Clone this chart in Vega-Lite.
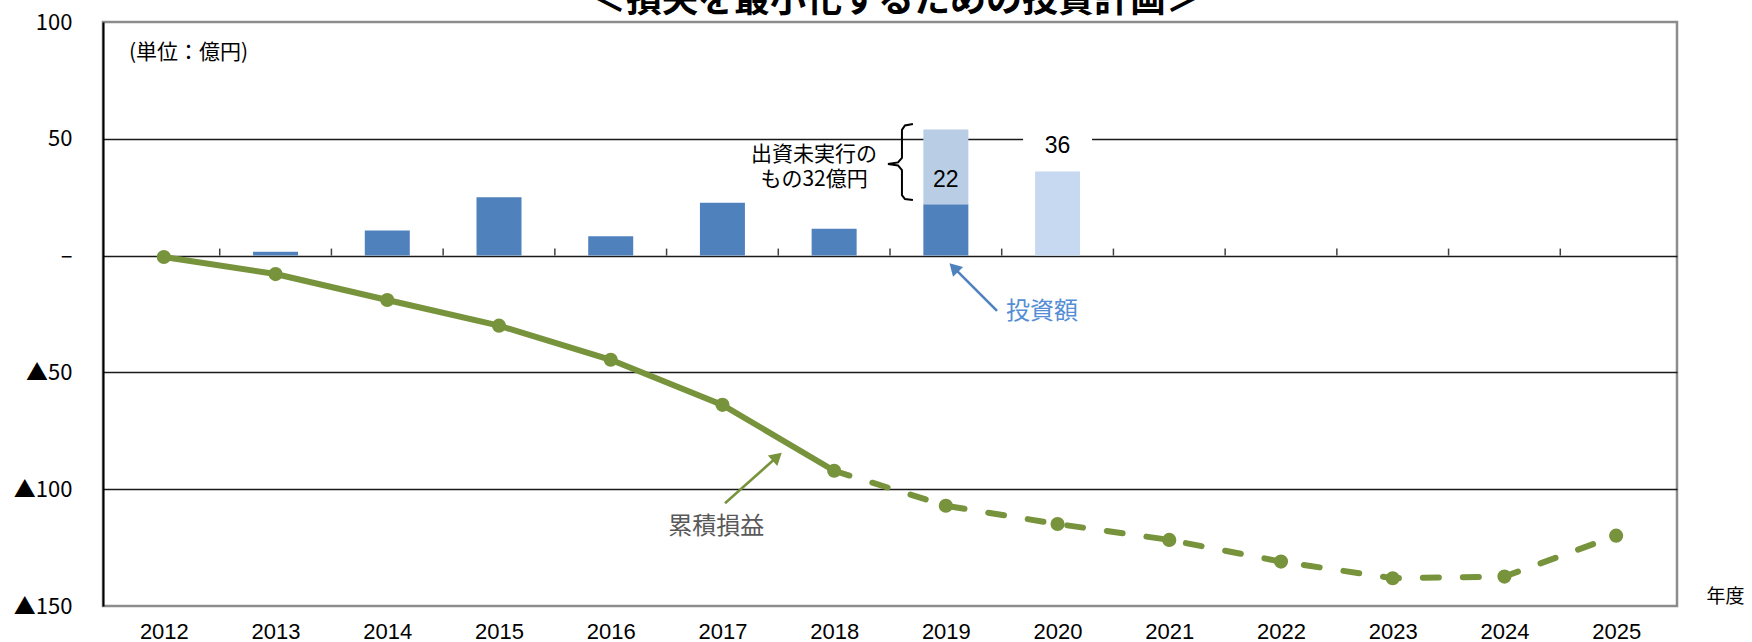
{
  "$schema": "https://vega.github.io/schema/vega-lite/v6.json",
  "width": 1574,
  "height": 584,
  "autosize": "none",
  "padding": {"left": 103, "top": 22, "right": 75, "bottom": 36},
  "background": "white",
  "config": {
    "view": {"stroke": "#8c8c8c", "strokeWidth": 2.5},
    "font": "Noto Sans CJK JP"
  },
  "layer": [
    {
      "data": {"values": [
        {"year": 2013, "kind": "executed", "amount": 1.7},
        {"year": 2014, "kind": "executed", "amount": 10.7},
        {"year": 2015, "kind": "executed", "amount": 25},
        {"year": 2016, "kind": "executed", "amount": 8.3},
        {"year": 2017, "kind": "executed", "amount": 22.6},
        {"year": 2018, "kind": "executed", "amount": 11.5},
        {"year": 2019, "kind": "executed", "amount": 22},
        {"year": 2019, "kind": "unexecuted", "amount": 32},
        {"year": 2020, "kind": "planned", "amount": 36}
      ]},
      "mark": {"type": "bar", "width": 45},
      "encoding": {
        "x": {
          "field": "year", "type": "quantitative",
          "scale": {"domain": [2011.5, 2025.5], "nice": false, "zero": false},
          "axis": {
            "values": [2012, 2013, 2014, 2015, 2016, 2017, 2018, 2019, 2020, 2021, 2022, 2023, 2024, 2025],
            "format": "d", "title": null, "ticks": false, "tickSize": 0, "domain": false, "grid": false,
            "labelFont": "Liberation Sans",
            "labelFontSize": 22, "labelPadding": 15, "labelColor": "black", "labelOverlap": false, "labelFlush": false
          }
        },
        "y": {
          "field": "amount", "type": "quantitative", "stack": "zero",
          "scale": {"domain": [-150, 100], "nice": false, "zero": false},
          "axis": {
            "values": [100, 50, 0, -50, -100, -150],
            "title": null, "ticks": false, "tickSize": 0,
            "domain": true, "domainColor": "black", "domainWidth": 2,
            "grid": true,
            "gridColor": {"condition": {"test": "datum.value == 100 || datum.value == -150", "value": "transparent"}, "value": "#1a1a1a"},
            "gridWidth": 1.3,
            "labelExpr": "datum.value == 0 ? '–' : datum.value < 0 ? '▲' + (-datum.value) : '' + datum.value",
            "labelFont": "Noto Sans CJK JP",
            "labelFontSize": 22, "labelPadding": 31, "labelColor": "black", "labelOverlap": false, "labelFlush": false
          }
        },
        "color": {
          "field": "kind", "type": "nominal",
          "scale": {"domain": ["executed", "unexecuted", "planned"], "range": ["#4F81BD", "#B9CDE5", "#C6D9F1"]},
          "legend": null
        },
        "order": {"field": "kind", "sort": "ascending"}
      }
    },
    {
      "data": {"values": [
        {"b": 2012.5}, {"b": 2013.5}, {"b": 2014.5}, {"b": 2015.5}, {"b": 2016.5}, {"b": 2017.5}, {"b": 2018.5},
        {"b": 2019.5}, {"b": 2020.5}, {"b": 2021.5}, {"b": 2022.5}, {"b": 2023.5}, {"b": 2024.5}
      ]},
      "mark": {"type": "rule", "color": "#404040", "strokeWidth": 1.5},
      "encoding": {
        "x": {"field": "b", "type": "quantitative"},
        "y": {"datum": 0, "type": "quantitative"},
        "y2": {"datum": 3}
      }
    },
    {
      "data": {"values": [{"year": 2020, "lo": 44, "hi": 55}]},
      "mark": {"type": "bar", "width": 69, "color": "white"},
      "encoding": {
        "x": {"field": "year", "type": "quantitative"},
        "y": {"field": "lo", "type": "quantitative"},
        "y2": {"field": "hi"}
      }
    },
    {
      "data": {"values": [
        {"year": 2019, "v": 32.4, "t": "22"},
        {"year": 2020, "v": 46.9, "t": "36"}
      ]},
      "mark": {"type": "text", "font": "Liberation Sans", "fontSize": 23, "color": "black", "align": "center", "baseline": "middle"},
      "encoding": {
        "x": {"field": "year", "type": "quantitative"},
        "y": {"field": "v", "type": "quantitative"},
        "text": {"field": "t"}
      }
    },
    {
      "data": {"name": "pl", "values": [
        {"year": 2012, "pl": -0.6},
        {"year": 2013, "pl": -7.9},
        {"year": 2014, "pl": -19.0},
        {"year": 2015, "pl": -30.0},
        {"year": 2016, "pl": -44.6},
        {"year": 2017, "pl": -63.9},
        {"year": 2018, "pl": -92.1},
        {"year": 2019, "pl": -107.1},
        {"year": 2020, "pl": -114.9},
        {"year": 2021, "pl": -121.7},
        {"year": 2022, "pl": -131.0},
        {"year": 2023, "pl": -138.1},
        {"year": 2024, "pl": -137.4},
        {"year": 2025, "pl": -119.9}
      ]},
      "layer": [
        {
          "transform": [{"filter": "datum.year <= 2018"}],
          "mark": {"type": "line", "color": "#77933C", "strokeWidth": 6},
          "encoding": {
            "x": {"field": "year", "type": "quantitative"},
            "y": {"field": "pl", "type": "quantitative"}
          }
        },
        {
          "transform": [{"filter": "datum.year >= 2018"}],
          "mark": {"type": "line", "color": "#77933C", "strokeWidth": 6, "strokeDash": [16, 24], "strokeCap": "round"},
          "encoding": {
            "x": {"field": "year", "type": "quantitative"},
            "y": {"field": "pl", "type": "quantitative"}
          }
        },
        {
          "mark": {"type": "point", "filled": true, "opacity": 1, "color": "#77933C", "size": 200},
          "encoding": {
            "x": {"field": "year", "type": "quantitative"},
            "y": {"field": "pl", "type": "quantitative"}
          }
        }
      ]
    },
    {
      "data": {"values": [{"x1": 2019.458, "y1": -23.7, "x2": 2019.071, "y2": -5.1}]},
      "mark": {"type": "rule", "strokeWidth": 2.5, "color": "#4F81BD"},
      "encoding": {
        "x": {"field": "x1", "type": "quantitative"},
        "y": {"field": "y1", "type": "quantitative"},
        "x2": {"field": "x2"},
        "y2": {"field": "y2"}
      }
    },
    {
      "data": {"values": [{"x1": 2017.023, "y1": -106.0, "x2": 2017.490, "y2": -86.1}]},
      "mark": {"type": "rule", "strokeWidth": 2.5, "color": "#77933C"},
      "encoding": {
        "x": {"field": "x1", "type": "quantitative"},
        "y": {"field": "y1", "type": "quantitative"},
        "x2": {"field": "x2"},
        "y2": {"field": "y2"}
      }
    },
    {
      "data": {"values": [{"x": 2019.071, "y": -5.1}]},
      "mark": {"type": "point", "shape": "triangle-up", "filled": true, "opacity": 1, "size": 200, "angle": 315.6, "color": "#4F81BD"},
      "encoding": {
        "x": {"field": "x", "type": "quantitative"},
        "y": {"field": "y", "type": "quantitative"}
      }
    },
    {
      "data": {"values": [{"x": 2017.490, "y": -86.1}]},
      "mark": {"type": "point", "shape": "triangle-up", "filled": true, "opacity": 1, "size": 200, "angle": 48.4, "color": "#77933C"},
      "encoding": {
        "x": {"field": "x", "type": "quantitative"},
        "y": {"field": "y", "type": "quantitative"}
      }
    },
    {
      "data": {"values": [
        {"o": 1, "bx": 2018.705, "by": 56.3},
        {"o": 2, "bx": 2018.634, "by": 55.7},
        {"o": 3, "bx": 2018.607, "by": 53.8},
        {"o": 4, "bx": 2018.607, "by": 41.8},
        {"o": 5, "bx": 2018.572, "by": 39.9},
        {"o": 6, "bx": 2018.482, "by": 39.2},
        {"o": 7, "bx": 2018.572, "by": 38.6},
        {"o": 8, "bx": 2018.607, "by": 36.6},
        {"o": 9, "bx": 2018.607, "by": 25.9},
        {"o": 10, "bx": 2018.634, "by": 24.2},
        {"o": 11, "bx": 2018.705, "by": 23.8}
      ]},
      "mark": {"type": "line", "color": "black", "strokeWidth": 2},
      "encoding": {
        "x": {"field": "bx", "type": "quantitative"},
        "y": {"field": "by", "type": "quantitative"},
        "order": {"field": "o", "type": "quantitative"}
      }
    },
    {
      "data": {"values": [
        {"x": 2017.82, "y": 43.1, "t": "出資未実行の"},
        {"x": 2017.82, "y": 32.4, "t": "もの32億円"}
      ]},
      "mark": {"type": "text", "fontSize": 21, "color": "black", "align": "center", "baseline": "middle"},
      "encoding": {
        "x": {"field": "x", "type": "quantitative"},
        "y": {"field": "y", "type": "quantitative"},
        "text": {"field": "t"}
      }
    },
    {
      "data": {"values": [{"x": 2011.687, "y": 86.7, "t": "(単位：億円)"}]},
      "mark": {"type": "text", "fontSize": 21, "color": "black", "align": "left", "baseline": "middle"},
      "encoding": {
        "x": {"field": "x", "type": "quantitative"},
        "y": {"field": "y", "type": "quantitative"},
        "text": {"field": "t"}
      }
    },
    {
      "data": {"values": [{"x": 2019.86, "y": -24.1, "t": "投資額"}]},
      "mark": {"type": "text", "fontSize": 24, "color": "#558ED5", "align": "center", "baseline": "middle"},
      "encoding": {
        "x": {"field": "x", "type": "quantitative"},
        "y": {"field": "y", "type": "quantitative"},
        "text": {"field": "t"}
      }
    },
    {
      "data": {"values": [{"x": 2016.945, "y": -116.3, "t": "累積損益"}]},
      "mark": {"type": "text", "fontSize": 24, "color": "#595959", "align": "center", "baseline": "middle"},
      "encoding": {
        "x": {"field": "x", "type": "quantitative"},
        "y": {"field": "y", "type": "quantitative"},
        "text": {"field": "t"}
      }
    },
    {
      "data": {"values": [{"x": 2025.98, "y": -146.1, "t": "年度"}]},
      "mark": {"type": "text", "fontSize": 19, "color": "black", "align": "center", "baseline": "middle"},
      "encoding": {
        "x": {"field": "x", "type": "quantitative"},
        "y": {"field": "y", "type": "quantitative"},
        "text": {"field": "t"}
      }
    },
    {
      "data": {"values": [{"x": 2018.553, "y": 104.1, "t": "＜損失を最小化するための投資計画＞"}]},
      "mark": {"type": "text", "fontSize": 36, "fontWeight": "bold", "color": "black", "align": "center", "baseline": "alphabetic"},
      "encoding": {
        "x": {"field": "x", "type": "quantitative"},
        "y": {"field": "y", "type": "quantitative"},
        "text": {"field": "t"}
      }
    }
  ]
}
